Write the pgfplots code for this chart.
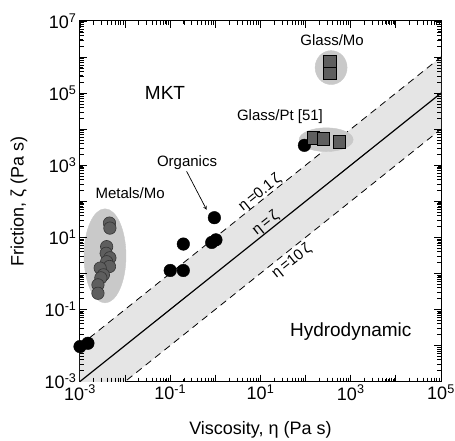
\documentclass[border=0pt]{standalone}
\usepackage{fontspec}
\setmainfont{Liberation Sans}
\usepackage{pgfplots}
\usepackage{pgfplotstable}
\pgfplotsset{compat=1.18}
\usetikzlibrary{calc}
\definecolor{band}{gray}{0.90}
\definecolor{ell}{gray}{0.79}
\definecolor{mk}{gray}{0.37}
\newcommand{\tp}[1]{\mbox{10\textsuperscript{#1}}}
% tick positions: x with bottom (b) and top (t); y with left (l) and right (r)
\pgfplotstableread{
x b t
1e-2 1e-3 1e7
1e-1 1e-3 1e7
1 1e-3 1e7
10 1e-3 1e7
100 1e-3 1e7
1e3 1e-3 1e7
1e4 1e-3 1e7
}\xmaj
\pgfplotstableread{
x b t
2e-3 1e-3 1e7
3e-3 1e-3 1e7
4e-3 1e-3 1e7
5e-3 1e-3 1e7
6e-3 1e-3 1e7
7e-3 1e-3 1e7
8e-3 1e-3 1e7
9e-3 1e-3 1e7
2e-2 1e-3 1e7
3e-2 1e-3 1e7
4e-2 1e-3 1e7
5e-2 1e-3 1e7
6e-2 1e-3 1e7
7e-2 1e-3 1e7
8e-2 1e-3 1e7
9e-2 1e-3 1e7
2e-1 1e-3 1e7
3e-1 1e-3 1e7
4e-1 1e-3 1e7
5e-1 1e-3 1e7
6e-1 1e-3 1e7
7e-1 1e-3 1e7
8e-1 1e-3 1e7
9e-1 1e-3 1e7
2 1e-3 1e7
3 1e-3 1e7
4 1e-3 1e7
5 1e-3 1e7
6 1e-3 1e7
7 1e-3 1e7
8 1e-3 1e7
9 1e-3 1e7
20 1e-3 1e7
30 1e-3 1e7
40 1e-3 1e7
50 1e-3 1e7
60 1e-3 1e7
70 1e-3 1e7
80 1e-3 1e7
90 1e-3 1e7
200 1e-3 1e7
300 1e-3 1e7
400 1e-3 1e7
500 1e-3 1e7
600 1e-3 1e7
700 1e-3 1e7
800 1e-3 1e7
900 1e-3 1e7
2e3 1e-3 1e7
3e3 1e-3 1e7
4e3 1e-3 1e7
5e3 1e-3 1e7
6e3 1e-3 1e7
7e3 1e-3 1e7
8e3 1e-3 1e7
9e3 1e-3 1e7
2e4 1e-3 1e7
3e4 1e-3 1e7
4e4 1e-3 1e7
5e4 1e-3 1e7
6e4 1e-3 1e7
7e4 1e-3 1e7
8e4 1e-3 1e7
9e4 1e-3 1e7
}\xmin
\pgfplotstableread{
y l r
1e-2 1e-3 1e5
1e-1 1e-3 1e5
1 1e-3 1e5
10 1e-3 1e5
100 1e-3 1e5
1e3 1e-3 1e5
1e4 1e-3 1e5
1e5 1e-3 1e5
1e6 1e-3 1e5
}\ymaj
\pgfplotstableread{
y l r
2e-3 1e-3 1e5
3e-3 1e-3 1e5
4e-3 1e-3 1e5
5e-3 1e-3 1e5
6e-3 1e-3 1e5
7e-3 1e-3 1e5
8e-3 1e-3 1e5
9e-3 1e-3 1e5
2e-2 1e-3 1e5
3e-2 1e-3 1e5
4e-2 1e-3 1e5
5e-2 1e-3 1e5
6e-2 1e-3 1e5
7e-2 1e-3 1e5
8e-2 1e-3 1e5
9e-2 1e-3 1e5
2e-1 1e-3 1e5
3e-1 1e-3 1e5
4e-1 1e-3 1e5
5e-1 1e-3 1e5
6e-1 1e-3 1e5
7e-1 1e-3 1e5
8e-1 1e-3 1e5
9e-1 1e-3 1e5
2 1e-3 1e5
3 1e-3 1e5
4 1e-3 1e5
5 1e-3 1e5
6 1e-3 1e5
7 1e-3 1e5
8 1e-3 1e5
9 1e-3 1e5
20 1e-3 1e5
30 1e-3 1e5
40 1e-3 1e5
50 1e-3 1e5
60 1e-3 1e5
70 1e-3 1e5
80 1e-3 1e5
90 1e-3 1e5
200 1e-3 1e5
300 1e-3 1e5
400 1e-3 1e5
500 1e-3 1e5
600 1e-3 1e5
700 1e-3 1e5
800 1e-3 1e5
900 1e-3 1e5
2e3 1e-3 1e5
3e3 1e-3 1e5
4e3 1e-3 1e5
5e3 1e-3 1e5
6e3 1e-3 1e5
7e3 1e-3 1e5
8e3 1e-3 1e5
9e3 1e-3 1e5
2e4 1e-3 1e5
3e4 1e-3 1e5
4e4 1e-3 1e5
5e4 1e-3 1e5
6e4 1e-3 1e5
7e4 1e-3 1e5
8e4 1e-3 1e5
9e4 1e-3 1e5
2e5 1e-3 1e5
3e5 1e-3 1e5
4e5 1e-3 1e5
5e5 1e-3 1e5
6e5 1e-3 1e5
7e5 1e-3 1e5
8e5 1e-3 1e5
9e5 1e-3 1e5
2e6 1e-3 1e5
3e6 1e-3 1e5
4e6 1e-3 1e5
5e6 1e-3 1e5
6e6 1e-3 1e5
7e6 1e-3 1e5
8e6 1e-3 1e5
9e6 1e-3 1e5
}\ymin
\begin{document}
\begin{tikzpicture}
\begin{axis}[
 xmode=log, ymode=log,
 scale only axis, width=361pt, height=360.5pt,
 xmin=1e-3, xmax=1e5, ymin=1e-3, ymax=1e7,
 xtick={1e-3,1e-2,1e-1,1,10,100,1000,1e4,1e5},
 xticklabels={{\tp{-3}},{},{\tp{-1}},{},{\tp{1}},{},{\tp{3}},{},{\tp{5}}},
 ytick={1e-3,1e-2,1e-1,1,10,100,1000,1e4,1e5,1e6,1e7},
 yticklabels={{\tp{-3}},{},{\tp{-1}},{},{\tp{1}},{},{\tp{3}},{},{\tp{5}},{},{\tp{7}}},
 tick label style={font=\fontsize{18}{20}\selectfont},
 major tick length=7pt,
 every tick/.style={black, line width=0.8pt},
 axis line style={line width=1pt},
 xlabel={Viscosity, η (Pa s)}, ylabel={Friction, ζ (Pa s)},
 label style={font=\fontsize{18}{20}\selectfont},
 xlabel style={at={(axis description cs:0.5,0)}, anchor=center, yshift=-48pt},
 ylabel style={at={(axis description cs:0,0.5)}, anchor=center, yshift=61pt},
]
% band
\addplot[fill=band, draw=none] coordinates {(1e-3,1e-2) (1e5,1e6) (1e5,1e4) (1e-3,1e-4)} -- cycle;
\addplot[black, line width=1.2pt] coordinates {(1e-3,1e-3) (1e5,1e5)};
\addplot[black, line width=0.8pt, dash pattern=on 7pt off 5pt] coordinates {(1e-3,1e-2) (1e5,1e6)};
\addplot[black, line width=0.8pt, dash pattern=on 7pt off 5pt] coordinates {(1e-3,1e-4) (1e5,1e4)};
% ellipses
\addplot[only marks, mark=*, mark size=21pt, mark options={yscale=2.24, draw=ell, fill=ell}] coordinates {(3.58e-3,3.06)};
\addplot[only marks, mark=*, mark size=16pt, mark options={yscale=1.06, draw=ell, fill=ell}] coordinates {(367,5.1e5)};
\addplot[only marks, mark=*, mark size=27pt, mark options={yscale=0.44, draw=ell, fill=ell}] coordinates {(285,5100)};
% metals
\addplot[only marks, mark=*, mark size=6.2pt, mark options={draw=black!80, fill=mk, line width=0.6pt}] coordinates {
(4.5e-3,24.8) (4.6e-3,18) (3.9e-3,5.5) (3.8e-3,3.6) (4.6e-3,2.7) (3.9e-3,2.1) (4.5e-3,1.55) (2.8e-3,1.4) (3.3e-3,0.91) (2.9e-3,0.75) (2.5e-3,0.48) (2.5e-3,0.28)};
% organics and others (black)
\addplot[only marks, mark=*, mark size=6.3pt, mark options={draw=black, fill=black}] coordinates {
(1e-3,0.0093) (1.5e-3,0.0115) (0.1,1.2) (0.195,1.2) (0.195,6.5) (0.83,7.2) (1.03,8.5) (0.95,35) (94,3550)};
% squares
\addplot[only marks, mark=square*, mark size=6.3pt, mark options={draw=black, fill=mk, line width=0.7pt}] coordinates {
(149,5700) (248,5350) (563,4400) (349,7.6e5) (349,3.5e5)};
% tick marks along the frame (inside)
\addplot[only marks, mark=|, mark size=3.5pt, mark options={yshift=3.5pt, black, line width=0.8pt}] table[x=x, y=b] {\xmaj};
\addplot[only marks, mark=|, mark size=3.5pt, mark options={yshift=-3.5pt, black, line width=0.8pt}] table[x=x, y=t] {\xmaj};
\addplot[only marks, mark=|, mark size=2pt, mark options={yshift=2pt, black, line width=0.6pt}] table[x=x, y=b] {\xmin};
\addplot[only marks, mark=|, mark size=2pt, mark options={yshift=-2pt, black, line width=0.6pt}] table[x=x, y=t] {\xmin};
\addplot[only marks, mark=-, mark size=3.5pt, mark options={xshift=3.5pt, black, line width=0.8pt}] table[x=l, y=y] {\ymaj};
\addplot[only marks, mark=-, mark size=3.5pt, mark options={xshift=-3.5pt, black, line width=0.8pt}] table[x=r, y=y] {\ymaj};
\addplot[only marks, mark=-, mark size=2pt, mark options={xshift=2pt, black, line width=0.6pt}] table[x=l, y=y] {\ymin};
\addplot[only marks, mark=-, mark size=2pt, mark options={xshift=-2pt, black, line width=0.6pt}] table[x=r, y=y] {\ymin};
% texts
\node[font=\fontsize{19}{21}\selectfont] at (axis cs:0.0767,1.02e5) {MKT};
\node[font=\fontsize{19}{21}\selectfont] at (axis cs:1000,0.0237) {Hydrodynamic};
\node[font=\fontsize{15}{17}\selectfont] at (axis cs:0.0129,172) {Metals/Mo};
\node[font=\fontsize{15}{17}\selectfont] at (axis cs:0.236,1175) {Organics};
\node[font=\fontsize{15}{17}\selectfont] at (axis cs:387,2.87e6) {Glass/Mo};
\node[font=\fontsize{15}{17}\selectfont] at (axis cs:27,22200) {Glass/Pt [51]};
\draw[-stealth, line width=0.7pt] (axis cs:0.23,680) -- (axis cs:0.64,58);
\node[rotate=38.6, font=\fontsize{15}{17}\selectfont] at (axis cs:9.8,169) {η\,=0.1\,ζ};
\node[rotate=38.6, font=\fontsize{15}{17}\selectfont] at (axis cs:13.1,24.8) {η\,=\,ζ};
\node[rotate=38.6, font=\fontsize{15}{17}\selectfont] at (axis cs:49.4,2.13) {η\,=10\,ζ};
\end{axis}
\pgfresetboundingbox
\path ($(current axis.south west)+(-80pt,-59.5pt)$) rectangle ($(current axis.north east)+(14pt,21pt)$);
\end{tikzpicture}
\end{document}
